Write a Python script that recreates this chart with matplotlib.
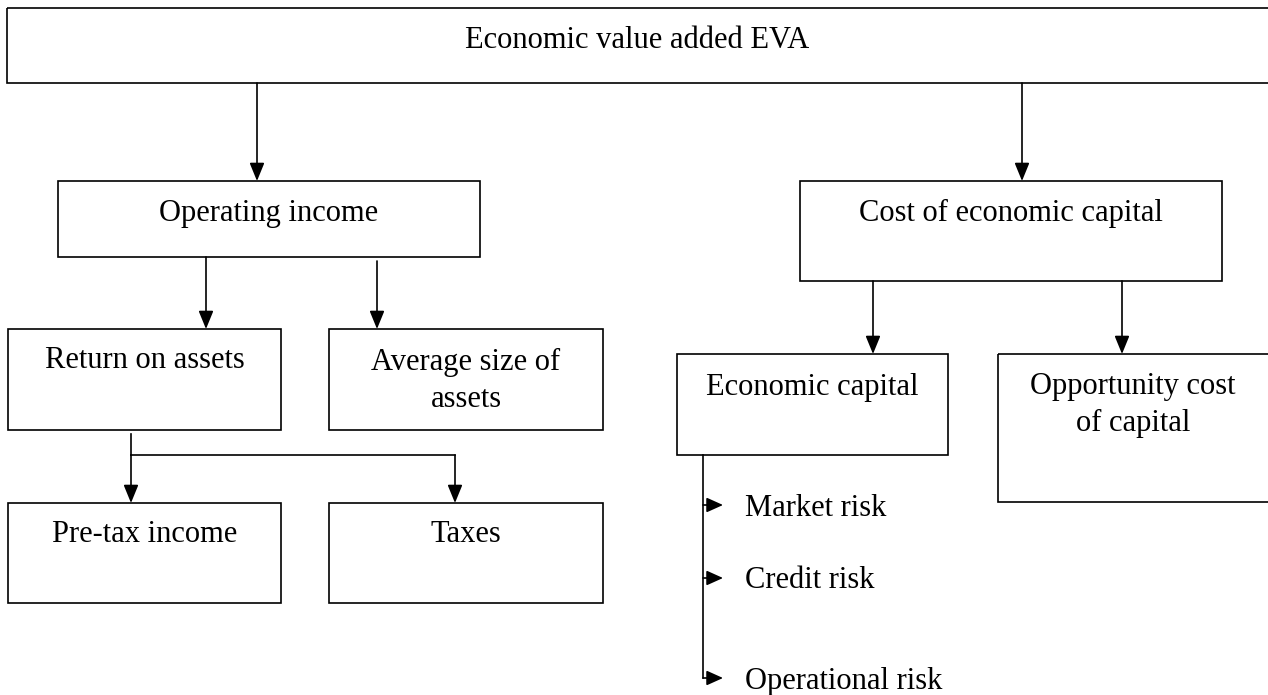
import matplotlib.pyplot as plt
from matplotlib.patches import Rectangle

# node labels
top_label = 'Economic value added EVA'
level1 = ['Operating income', 'Cost of economic capital']
level2 = ['Return on assets', 'Average size of\nassets', 'Economic capital', 'Opportunity cost\nof capital']
level3 = ['Pre-tax income', 'Taxes']
risks = ['Market risk', 'Credit risk', 'Operational risk']

plt.rcParams['font.family'] = ['Liberation Serif', 'DejaVu Serif']
FS = 22
LW = 1.2

fig = plt.figure(figsize=(12.68, 6.95), dpi=100)
ax = fig.add_axes([0, 0, 1, 1])
ax.set_xlim(0, 1268)
ax.set_ylim(695, 0)
ax.axis('off')


def box(x0, y0, x1, y1, text, ty, tx=None):
    ax.add_patch(Rectangle((x0, y0), x1 - x0, y1 - y0, fill=False, lw=LW, ec='black'))
    if tx is None:
        tx = (x0 + x1) / 2
    ax.text(tx, ty + 3, text, ha='center', va='center', fontsize=FS, linespacing=1.32)


def arrow(x, y0, y1):
    ax.annotate('', xy=(x, y1), xytext=(x, y0),
                arrowprops=dict(arrowstyle='-|>,head_length=1.1,head_width=0.45',
                                lw=LW, color='black', shrinkA=0, shrinkB=0))


def harrow(y, x0, x1):
    ax.annotate('', xy=(x1, y), xytext=(x0, y),
                arrowprops=dict(arrowstyle='-|>,head_length=1.0,head_width=0.45',
                                lw=LW, color='black', shrinkA=0, shrinkB=0))


# top
box(7, 8, 1275, 83, top_label, 37, tx=637)
arrow(257, 83, 181)
arrow(1022, 83, 181)

# level 1
box(58, 181, 480, 257, level1[0], 210)
box(800, 181, 1222, 281, level1[1], 210)
arrow(206, 257, 329)
arrow(377, 261, 329)
arrow(873, 281, 354)
arrow(1122, 281, 354)

# level 2
box(8, 329, 281, 430, level2[0], 358)
box(329, 329, 603, 430, level2[1], 378)
box(677, 354, 948, 455, level2[2], 385)
box(998, 354, 1275, 502, level2[3], 402, tx=1133)

# return on assets split
ax.plot([131, 131], [434, 455], color='black', lw=LW)
ax.plot([131, 455], [455, 455], color='black', lw=LW)
arrow(131, 455, 503)
arrow(455, 455, 503)

# level 3
box(8, 503, 281, 603, level3[0], 532)
box(329, 503, 603, 603, level3[1], 532)

# risks bracket
risk_y = [505, 578, 678]
ax.plot([703, 703], [455, risk_y[-1]], color='black', lw=LW)
for ry, name in zip(risk_y, risks):
    harrow(ry, 703, 723)
    ax.text(745, ry + 3, name, ha='left', va='center', fontsize=FS)

fig.savefig('out.png', dpi=100)
